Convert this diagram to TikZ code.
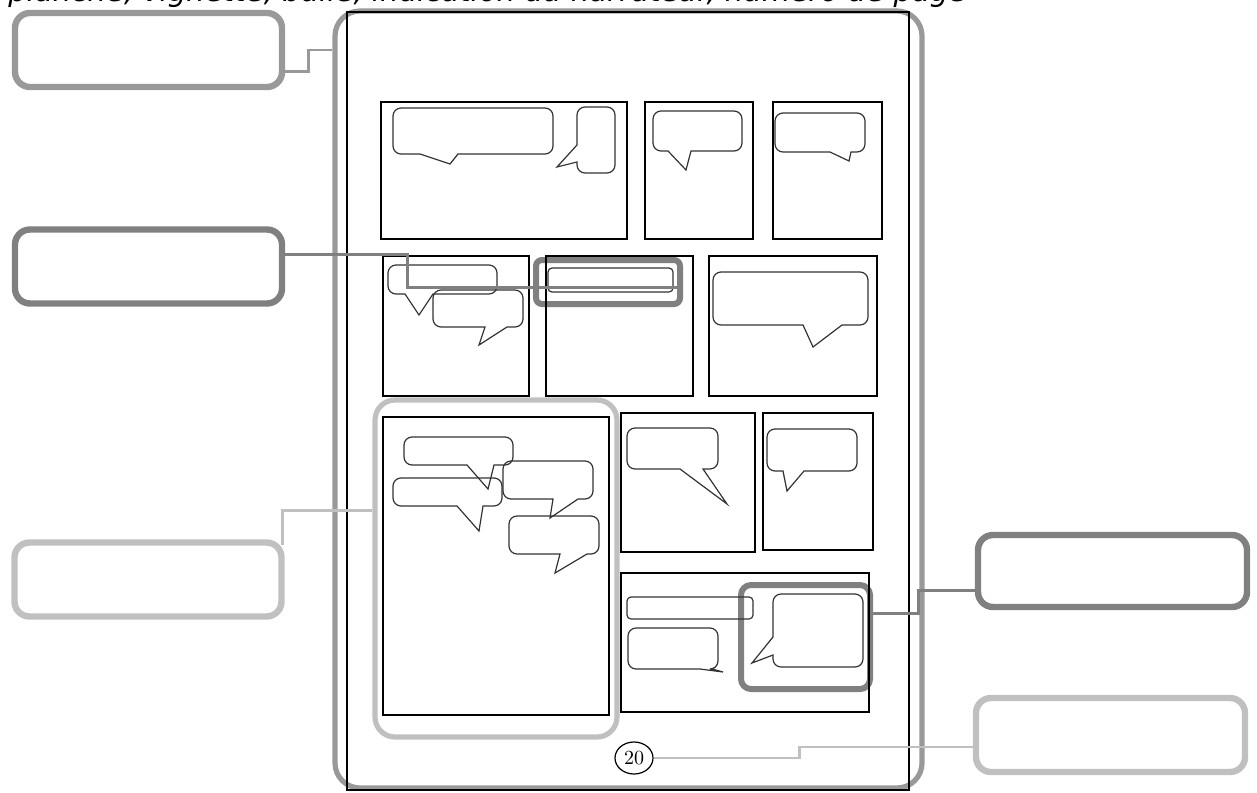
\documentclass[tikz,border=0pt]{standalone}
\usepackage{fontspec}
\usepackage{tikz}
\usetikzlibrary{shapes.geometric,calc}

\newfontfamily\notefont{DejaVu Sans}

\definecolor{hlmid}{HTML}{999999}
\definecolor{hldark}{HTML}{808080}
\definecolor{hllight}{HTML}{C0C0C0}

\tikzset{
  panel/.style={draw=black, line width=0.75pt},
  bubble/.style={draw=black!80, line width=0.6pt},
  narrbox/.style={draw=black!80, line width=0.6pt, rounded corners=2pt},
  tagbox/.style={draw=#1, line width=3.2pt, rounded corners=7.5pt, minimum width=133.5pt, minimum height=37pt, inner sep=0pt},
  hilite/.style={draw=#1, line width=3pt, inner sep=0pt},
  link/.style={draw=#1, line width=1.4pt},
}

% speech bubble, tail on the bottom edge: x1 y1 x2 y2, right base, tip x, tip y, left base
\newcommand{\bubbledown}[8]{%
  \draw[bubble] ({(#1+#3)/2},#2) [rounded corners=4pt] -- (#3,#2) -- (#3,#4)
    [sharp corners] -- (#5,#4) -- (#6,#7) -- (#8,#4)
    [rounded corners=4pt] -- (#1,#4) -- (#1,#2) -- cycle;}
% speech bubble, tail on the left edge: x1 y1 x2 y2, upper base, tip x, tip y, lower base
\newcommand{\bubbleleft}[8]{%
  \draw[bubble] ({(#1+#3)/2},#2) [rounded corners=4pt] -- (#3,#2) -- (#3,#4) -- (#1,#4)
    [sharp corners] -- (#1,#8) -- (#6,#7) -- (#1,#5)
    [rounded corners=4pt] -- (#1,#2) -- cycle;}

\begin{document}
\begin{tikzpicture}[x=0.5pt, y=-0.5pt]
\useasboundingbox (0,0) rectangle (1257,792);
\clip (0,0) rectangle (1257,792);

% caption (cut off at the top)
\node[anchor=base west, inner sep=0pt, font=\notefont\itshape\fontsize{14.6}{17}\selectfont] (caption) at (8,2) {planche, vignette, bulle, indication du narrateur, numéro de page};

% highlights
\node[hilite=hlmid, line width=2.6pt, minimum width=293.5pt, minimum height=388.5pt, rounded corners=12.5pt] (pageframe) at (628.5,399.5) {};
\node[hilite=hllight, line width=2.6pt, minimum width=121pt, minimum height=168.5pt, rounded corners=10pt] (lefthl) at (496,568.5) {};
\node[hilite=hldark, minimum width=72pt, minimum height=22pt, rounded corners=3pt] (narrhl) at (608,282) {};
\node[hilite=hldark, minimum width=64.5pt, minimum height=52pt, rounded corners=5pt] (bubhl) at (805.5,637) {};

% page and panels
\draw[line width=1.1pt] (347,12) rectangle (909,790);
\foreach \xa/\ya/\xb/\yb in {381/102/627/239, 645/102/753/239, 773/102/882/239,
    383/256/529/396, 546/256/693/396, 709/256/877/396,
    383/417/609/715, 621/413/755/552, 763/413/873/550, 621/573/869/712}
  \draw[panel] (\xa,\ya) rectangle (\xb,\yb);

% bubbles
\bubbledown{393}{108}{553}{154}{458}{450}{164}{420}
\bubbleleft{577}{107}{615}{173}{145}{557}{167}{162}
\bubbledown{653}{111}{742}{151}{691}{686}{170}{668}
\bubbledown{775}{113}{865}{152}{851}{849}{161}{830}
\bubbledown{388}{265}{497}{294}{433}{419}{315}{405}
\bubbledown{433}{290}{523}{327}{507}{479}{345}{485}
\draw[narrbox] (548,268) rectangle (673,292);
\bubbledown{713}{272}{868}{325}{842}{813}{347}{803}
\bubbledown{404}{437}{513}{465}{494}{488}{489}{467}
\bubbledown{393}{478}{502}{506}{483}{479}{531}{457}
\bubbledown{503}{461}{593}{499}{578}{550}{518}{553}
\bubbledown{509}{516}{599}{554}{587}{555}{573}{560}
\bubbledown{627}{428}{718}{469}{703}{727}{504}{680}
\bubbledown{767}{429}{857}{471}{804}{787}{491}{783}
\draw[narrbox] (627,597) rectangle (753,619);
\bubbledown{628}{628}{718}{669}{712}{723}{672}{700}
\bubbleleft{773}{594}{863}{667}{637}{752}{663}{655}

% page number
\node[draw, ellipse, line width=0.6pt, minimum width=19pt, minimum height=16pt, inner sep=0pt, font=\fontsize{10}{10}\selectfont] (pagenum) at (634,758) {20};

% empty labels
\node[tagbox=hlmid] (lbl1) at (148.5,50) {};
\node[tagbox=hldark] (lbl2) at (148.5,266.5) {};
\node[tagbox=hllight] (lbl3) at (148,579.5) {};
\node[tagbox=hldark, minimum width=134.5pt, minimum height=36pt] (lbl4) at (1112.5,571) {};
\node[tagbox=hllight, minimum width=134.5pt] (lbl5) at (1110.5,735) {};

% connectors
\draw[link=hlmid] (lbl1.-9) -- ++(23,0) |- (pageframe.west |- lbl1.east);
\draw[link=hldark] (lbl2.5) -- ++(122,0) |- (narrhl.-4);
\draw[link=hllight] ($(lbl3.north east)+(-2,6)$) |- (lefthl.155);
\draw[link=hldark] (lbl4.188) -- ++(-56,0) |- (bubhl.19);
\draw[link=hllight] (lbl5.185) -- ++(-173,0) |- (pagenum.east);
\end{tikzpicture}
\end{document}
